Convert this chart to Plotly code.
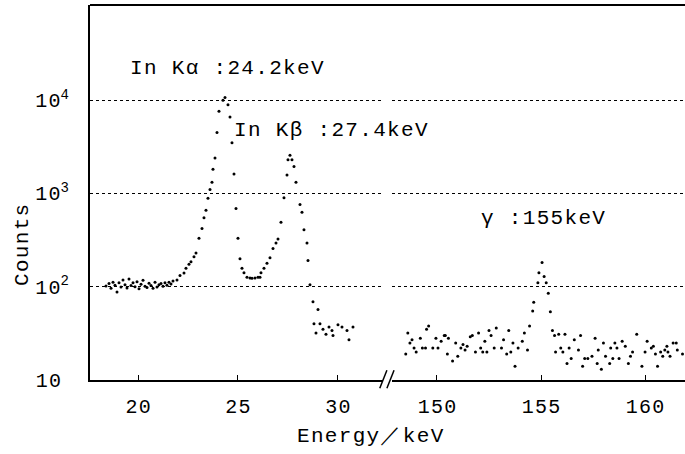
import plotly.graph_objects as go

# ---- data ----
low_energy = [18.40, 18.55, 18.65, 18.75, 18.85, 18.95, 19.05, 19.15, 19.25, 19.35,
              19.45, 19.55, 19.65, 19.75, 19.85, 19.95, 20.05, 20.15, 20.25, 20.35,
              20.45, 20.55, 20.65, 20.75, 20.85, 20.95, 21.05, 21.15, 21.25, 21.35,
              21.45, 21.55, 21.65, 21.75, 21.95, 22.10, 22.30, 22.40, 22.55, 22.65,
              22.80, 22.90, 23.05, 23.20, 23.30, 23.40, 23.50, 23.60, 23.70, 23.75,
              23.85, 23.95, 24.05, 24.25, 24.35, 24.50, 24.60, 24.70, 24.80, 24.90,
              25.00, 25.10, 25.20, 25.30, 25.45, 25.60, 25.70, 25.85, 26.00, 26.10,
              26.15, 26.30, 26.45, 26.60, 26.75, 26.90, 27.00, 27.15, 27.30, 27.45,
              27.50, 27.60, 27.70, 27.80, 27.90, 28.10, 28.20, 28.30, 28.45, 28.50,
              28.60, 28.75, 28.80, 28.90, 29.00, 29.10, 29.25, 29.40, 29.55, 29.70,
              29.75, 30.00, 30.20, 30.45, 30.55, 30.75]
low_counts = [102, 108, 96, 112, 104, 88, 110, 99, 118, 105,
              97, 121, 103, 110, 100, 113, 95, 106, 117, 101,
              98, 109, 103, 96, 112, 99, 105, 108, 101, 110,
              104, 112, 107, 115, 118, 132, 140, 158, 174, 185,
              209, 230, 330, 420, 550, 660, 890, 1100, 1320, 1820,
              2400, 4500, 7600, 10000, 10700, 8900, 6600, 3500, 1620, 690,
              330, 200, 158, 141, 126, 124, 123, 124, 126, 126,
              141, 158, 178, 204, 257, 295, 324, 490, 900, 1580,
              2290, 2570, 2290, 1950, 1320, 760, 630, 407, 295, 191,
              105, 69, 40, 32, 57, 40, 35, 31, 37, 34,
              30, 39, 37, 34, 27, 37]

high_energy = [148.50, 148.60, 148.70, 148.80, 148.90, 149.00, 149.20, 149.30, 149.45, 149.50,
               149.60, 149.80, 149.95, 150.05, 150.20, 150.35, 150.40, 150.50, 150.55, 150.75,
               150.90, 151.00, 151.15, 151.25, 151.35, 151.45, 151.60, 151.70, 151.85, 152.00,
               152.10, 152.20, 152.30, 152.40, 152.50, 152.60, 152.75, 152.85, 153.10, 153.20,
               153.35, 153.45, 153.55, 153.65, 153.75, 153.90, 154.10, 154.20, 154.35, 154.45,
               154.60, 154.65, 154.85, 154.90, 155.05, 155.15, 155.25, 155.35, 155.45, 155.55,
               155.65, 155.70, 155.85, 155.95, 156.05, 156.15, 156.25, 156.35, 156.45, 156.60,
               156.80, 156.90, 157.00, 157.10, 157.25, 157.45, 157.60, 157.70, 157.75, 157.90,
               158.00, 158.10, 158.30, 158.35, 158.45, 158.55, 158.65, 158.75, 158.90, 159.05,
               159.20, 159.30, 159.40, 159.60, 159.85, 160.00, 160.10, 160.30, 160.40, 160.50,
               160.60, 160.75, 160.85, 160.95, 161.05, 161.10, 161.20, 161.35, 161.50, 161.55,
               161.80]
high_counts = [19, 32, 25, 27, 22, 20, 28, 22, 22, 35,
               38, 22, 28, 22, 26, 30, 30, 19, 28, 16,
               25, 18, 22, 24, 21, 23, 29, 30, 20, 32,
               22, 20, 26, 20, 34, 30, 22, 36, 22, 27,
               19, 34, 20, 25, 14, 22, 26, 32, 21, 38,
               55, 68, 110, 141, 182, 129, 110, 85, 54, 34,
               30, 20, 31, 22, 20, 31, 15, 22, 17, 27,
               21, 30, 14, 17, 17, 18, 28, 15, 21, 13,
               25, 18, 15, 22, 17, 25, 22, 17, 26, 23,
               15, 18, 20, 31, 14, 20, 26, 22, 23, 19,
               14, 20, 18, 21, 23, 20, 18, 25, 25, 21,
               19]

y_tickvals = [10, 100, 1000, 10000]
y_ticktext = ["1\u200a0\u2009\u2009", "1\u200a0<sup>2</sup>", "1\u200a0<sup>3</sup>", "1\u200a0<sup>4</sup>"]
x1_ticks = [20, 25, 30]
x2_ticks = [150, 155, 160]

FONT = "Liberation Mono"
HS = "\u200a"


def spaced(s):
    return HS.join(list(s))


fig = go.Figure()
mk = dict(color="black", size=3)
fig.add_trace(go.Scatter(x=low_energy, y=low_counts, mode="markers", marker=mk,
                         xaxis="x", yaxis="y", showlegend=False))
fig.add_trace(go.Scatter(x=high_energy, y=high_counts, mode="markers", marker=mk,
                         xaxis="x2", yaxis="y2", showlegend=False))

common_x = dict(showline=True, linecolor="black", linewidth=2, ticks="inside",
                ticklen=5, tickcolor="black", showgrid=False, zeroline=False,
                automargin=False,
                tickfont=dict(family=FONT, size=20, color="black"), ticklabelstandoff=7)
fig.update_layout(
    width=685, height=454,
    margin=dict(l=90, r=0, t=5, b=74),
    paper_bgcolor="white", plot_bgcolor="white",
    xaxis=dict(domain=[0, 0.4924], range=[17.6, 32.25], tickvals=x1_ticks,
               ticktext=[spaced(str(v)) for v in x1_ticks], anchor="y", **common_x),
    xaxis2=dict(domain=[0.5076, 1], range=[147.84, 161.92], tickvals=x2_ticks,
                ticktext=[spaced(str(v)) for v in x2_ticks], anchor="y2", **common_x),
    yaxis=dict(type="log", range=[1, 5.02], anchor="x", tickvals=y_tickvals,
               ticktext=y_ticktext, showline=True, linecolor="black", linewidth=2,
               ticks="", showgrid=True, gridcolor="black", gridwidth=1.2, griddash="dot",
               zeroline=False, automargin=False,
               tickfont=dict(family=FONT, size=20, color="black"),
               ticklabelstandoff=15),
    yaxis2=dict(type="log", range=[1, 5.02], anchor="x2", matches="y", tickvals=y_tickvals,
                showticklabels=False, showline=False, ticks="", showgrid=True,
                gridcolor="black", gridwidth=1.2, griddash="dot", zeroline=False,
                automargin=False),
)

# frame top edge and axis-break marks
fig.add_shape(type="line", xref="paper", yref="paper", x0=0, x1=1, y0=1, y1=1,
              line=dict(color="black", width=2))
for dx in (0.0, 0.012):
    fig.add_shape(type="line", xref="paper", yref="paper",
                  x0=0.487 + dx, x1=0.499 + dx, y0=-0.022, y1=0.026,
                  line=dict(color="black", width=1.5))

ann_font = dict(family=FONT, size=21, color="black")
fig.add_annotation(x=19.5, y=4.344, xref="x", yref="y", text=spaced("In Kα :24.2keV"),
                   showarrow=False, xanchor="left", yanchor="middle", font=ann_font)
fig.add_annotation(x=24.7, y=3.68, xref="x", yref="y", text=spaced("In Kβ :27.4keV"),
                   showarrow=False, xanchor="left", yanchor="middle", font=ann_font)
fig.add_annotation(x=152.0, y=2.73, xref="x2", yref="y2", text=spaced("γ :155keV"),
                   showarrow=False, xanchor="left", yanchor="middle", font=ann_font)
fig.add_annotation(x=22, y=245, xref="paper", yref="paper", text=spaced("Counts"),
                   showarrow=False, textangle=-90, xanchor="center", yanchor="middle",
                   font=ann_font)
fig.add_annotation(x=370, y=437, xref="paper", yref="paper", text=spaced("Energy／keV"),
                   showarrow=False, xanchor="center", yanchor="middle", font=ann_font)

# convert pixel positions of the axis-title annotations to paper coords
for a in fig.layout.annotations[3:]:
    a.x = (a.x - 90) / 595
    a.y = (454 - 74 - a.y) / 375

fig.write_html("out.html", config={"displayModeBar": False},
               post_script="document.body.style.margin='0px';document.body.style.overflow='hidden';")
